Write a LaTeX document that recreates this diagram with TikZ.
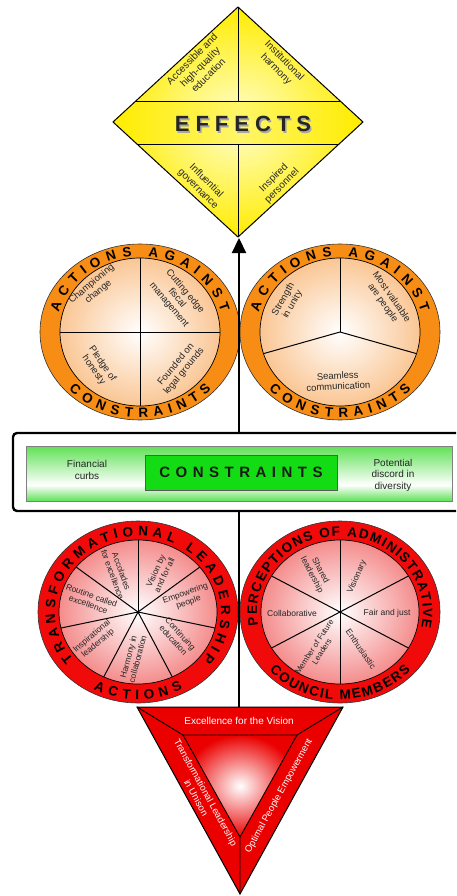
\documentclass[tikz,border=0pt]{standalone}
\usepackage{fontspec}
\setmainfont{Liberation Sans}
\usetikzlibrary{decorations.text,arrows.meta,calc}
\definecolor{ringorange}{RGB}{247,141,20}
\definecolor{peach}{RGB}{250,198,148}
\definecolor{ringred}{RGB}{240,10,10}
\definecolor{pinkred}{RGB}{244,140,140}
\definecolor{dyellow}{RGB}{255,236,0}
\definecolor{lyellow}{RGB}{255,255,210}
\definecolor{bandgreen}{RGB}{95,225,85}
\definecolor{boxgreen}{RGB}{20,220,20}
\definecolor{trired}{RGB}{235,0,0}
\newcommand\ringfont{\bfseries\fontsize{13.5}{13.5}\selectfont}
\begin{document}
\begin{tikzpicture}[x=1pt,y=1pt,
  qt/.style={font=\fontsize{10}{11.5}\selectfont, align=center, inner sep=0pt, text=black!85},
  ot/.style={font=\fontsize{9.5}{10.5}\selectfont, align=center, inner sep=0pt, text=black!85},
  rt/.style={font=\fontsize{8.5}{9.5}\selectfont, align=center, inner sep=0pt, text=black!85},
  st/.style={font=\fontsize{10}{11.5}\selectfont, align=center, inner sep=0pt, text=black!85},
  tt/.style={font=\fontsize{9.5}{11}\selectfont, align=center, inner sep=0pt, text=white},
  edge/.style={draw=black, line width=1pt},
  spoke/.style={draw=black, line width=1pt},
  ringtext/.style={decorate, decoration={text along path, text={|\ringfont|#1}, text align=fit to path}},
]
\useasboundingbox (0,0) rectangle (456,-896);
\clip (0,0) rectangle (456,-896);

% ---------------- Diamond (EFFECTS) ----------------
\coordinate (dT) at (238,-7);
\coordinate (dL) at (113,-122);
\coordinate (dR) at (363,-122);
\coordinate (dB) at (238,-237);
\coordinate (btl) at (134.7,-102);
\coordinate (btr) at (341.3,-102);
\coordinate (bbl) at (138,-145);
\coordinate (bbr) at (338,-145);
\coordinate (bt) at (238,-102);
\coordinate (bb) at (238,-145);
\shade[inner color=lyellow, outer color=dyellow] (dT) -- (dR) -- (dB) -- (dL) -- cycle;
\shade[left color=dyellow, right color=dyellow, middle color=lyellow!50!dyellow]
  (dL) -- (btl) -- (btr) -- (dR) -- (bbr) -- (bbl) -- cycle;
\draw[edge] (dT) -- (dR) -- (dB) -- (dL) -- cycle;
\draw[edge] (btl) -- (btr) (bbl) -- (bbr) (dT) -- (bt) (bb) -- (dB);
\node[font=\bfseries\fontsize{22}{22}\selectfont, text=black!35] (effsh) at (244.5,-125.5)
  {E\hspace{6pt}F\hspace{6pt}F\hspace{6pt}E\hspace{6pt}C\hspace{6pt}T\hspace{6pt}S};
\node[font=\bfseries\fontsize{22}{22}\selectfont, text=black!85] (eff) at (243,-124)
  {E\hspace{6pt}F\hspace{6pt}F\hspace{6pt}E\hspace{6pt}C\hspace{6pt}T\hspace{6pt}S};
\node[qt, rotate=45] (q1) at (200,-67) {Accessible and\\high-quality\\education};
\node[qt, rotate=-45] (q2) at (280,-65) {Institutional\\harmony};
\node[qt, rotate=-45] (q3) at (202,-185) {Influential\\governance};
\node[qt, rotate=45] (q4) at (278,-182) {Inspired\\personnel};

% ---------------- Orange circles ----------------
\coordinate (C1) at (140,-332);
\coordinate (C2) at (340,-332);
\foreach \c in {C1,C2}{
  \filldraw[fill=ringorange, draw=black!80, line width=0.6pt] (\c) ellipse[x radius=100, y radius=88];
  \shade[inner color=white, outer color=peach] (\c) ellipse[x radius=80, y radius=74];
  \draw[line width=0.7pt] (\c) ellipse[x radius=80, y radius=74];
  \path[ringtext={ACTIONS AGAINST}] ($(\c)+(165:84 and 76)$) arc[start angle=165, end angle=15, x radius=84, y radius=76];
  \path[ringtext={CONSTRAINTS}] ($(\c)+(222:96 and 85.5)$) arc[start angle=222, end angle=318, x radius=96, y radius=85.5];
}
\draw[spoke] ($(C1)+(0,74)$) -- ($(C1)+(0,-74)$);
\draw[spoke] ($(C1)+(-80,0)$) -- ($(C1)+(80,0)$);
\draw[spoke] (C2) -- ($(C2)+(90:80 and 74)$);
\draw[spoke] (C2) -- ($(C2)+(197:80 and 74)$);
\draw[spoke] (C2) -- ($(C2)+(343:80 and 74)$);
\node[ot, rotate=40] (o1) at (95,-288) {Championing\\change};
\node[ot, rotate=-50] (o2) at (177,-298) {Cutting edge\\fiscal\\management};
\node[ot, rotate=-55] (o3) at (98,-367) {Pledge of\\honesty};
\node[ot, rotate=50] (o4) at (180,-368) {Founded on\\legal grounds};
\node[ot, rotate=60] (o5) at (288,-302) {Strength\\in unity};
\node[ot, rotate=-55] (o6) at (387,-300) {Most valuable\\are people};
\node[ot, rotate=3] (o7) at (338,-381) {Seamless\\communication};

% ---------------- Red circles ----------------
\coordinate (C3) at (138,-612);
\coordinate (C4) at (340,-612);
\foreach \c in {C3,C4}{
  \filldraw[fill=ringred, draw=black!80, line width=0.6pt] (\c) ellipse[x radius=100, y radius=91];
  \shade[inner color=white, outer color=pinkred] (\c) ellipse[x radius=79, y radius=72];
  \draw[line width=0.7pt] (\c) ellipse[x radius=79, y radius=72];
}
\foreach \a in {90,38.57,-12.86,-64.29,-115.71,-167.14,141.43}
  \draw[spoke] (C3) -- ($(C3)+(\a:79 and 72)$);
\foreach \a in {30,90,150,210,270,330}
  \draw[spoke] (C4) -- ($(C4)+(\a:79 and 72)$);
\path[ringtext={TRANSFORMATIONAL LEADERSHIP}] ($(C3)+(219:83 and 76)$) arc[start angle=219, end angle=-39, x radius=83, y radius=76];
\path[ringtext={ACTIONS}] ($(C3)+(242:95 and 87.5)$) arc[start angle=242, end angle=298, x radius=95, y radius=87.5];
\path[ringtext={PERCEPTIONS OF ADMINISTRATIVE}] ($(C4)+(190:83 and 76)$) arc[start angle=190, end angle=-12, x radius=83, y radius=76];
\path[ringtext={COUNCIL MEMBERS}] ($(C4)+(222:95 and 87.5)$) arc[start angle=222, end angle=318, x radius=95, y radius=87.5];
\node[rt, rotate=-70] (r1) at (117,-573) {Accolades\\for excellence};
\node[rt, rotate=65] (r2) at (160,-573) {Vision by\\and for all};
\node[rt, rotate=20] (r3) at (187,-598) {Empowering\\people};
\node[rt, rotate=-48] (r4) at (177,-637) {Continuing\\education};
\node[rt, rotate=75] (r5) at (133,-658) {Harmony in\\collaboration};
\node[rt, rotate=40] (r6) at (95,-640) {Inspirational\\leadership};
\node[rt, rotate=-20] (r7) at (90,-600) {Routine called\\excellence};
\node[rt, rotate=-62] (p1) at (316,-573) {Shared\\leadership};
\node[rt, rotate=66] (p2) at (357,-577) {Visionary};
\node[rt] (p3) at (387,-613) {Fair and just};
\node[rt, rotate=-55] (p4) at (361,-649) {Enthusiastic};
\node[rt, rotate=57, font=\fontsize{8}{9}\selectfont] (p5) at (318,-649) {Member of Future\\Leaders};
\node[rt] (p6) at (292,-613) {Collaborative};

% ---------------- Triangle ----------------
\coordinate (tA) at (137,-707);
\coordinate (tB) at (343,-707);
\coordinate (tC) at (240,-894);
\coordinate (ia) at (183,-735);
\coordinate (ib) at (297,-735);
\coordinate (ic) at (240,-837);
\filldraw[fill=trired, draw=black, line width=1pt] (tA) -- (tB) -- (tC) -- cycle;
\shade[inner color=white, outer color=trired] (ia) -- (ib) -- (ic) -- cycle;
\draw[line width=0.9pt] (ia) -- (ib) -- (ic) -- cycle;
\draw[line width=0.9pt] (tA) -- (ia) (tB) -- (ib) (tC) -- (ic);
\node[tt, font=\fontsize{10}{11}\selectfont] (t1) at (239,-721) {Excellence for the Vision};
\node[tt, rotate=-61] (t2) at (201,-795) {Transformational Leadership\\in Unison};
\node[tt, rotate=61] (t3) at (279,-796) {Optimal People Empowerment};

% ---------------- Main arrow ----------------
\coordinate (tritop) at (239,-707);
\coordinate (diabot) at (239,-238);
\draw[line width=2.2pt, -{Triangle[width=14pt,length=15pt]}] (tritop) -- (diabot);

% ---------------- Constraints box ----------------
\draw[line width=2.4pt, rounded corners=4pt, fill=white] (13,-433) rectangle (480,-511);
\shade[top color=bandgreen, bottom color=white] (26,-446) rectangle (452,-485);
\shade[top color=white, bottom color=bandgreen] (26,-485) rectangle (452,-501);
\draw[draw=black!50, line width=0.7pt] (26,-446) rectangle (452,-501);
\filldraw[fill=boxgreen, draw=black!65, line width=0.7pt] (145,-455) rectangle (337,-490);
\node[font=\bfseries\fontsize{15}{15}\selectfont, text=black!90] (cons) at (241,-472.5)
  {C\hspace{5.5pt}O\hspace{5.5pt}N\hspace{5.5pt}S\hspace{5.5pt}T\hspace{5.5pt}R\hspace{5.5pt}A\hspace{5.5pt}I\hspace{5.5pt}N\hspace{5.5pt}T\hspace{5.5pt}S};
\node[st] (fin) at (87,-470) {Financial\\curbs};
\node[st] (pot) at (393,-475) {Potential\\discord in\\diversity};
\end{tikzpicture}
\end{document}
